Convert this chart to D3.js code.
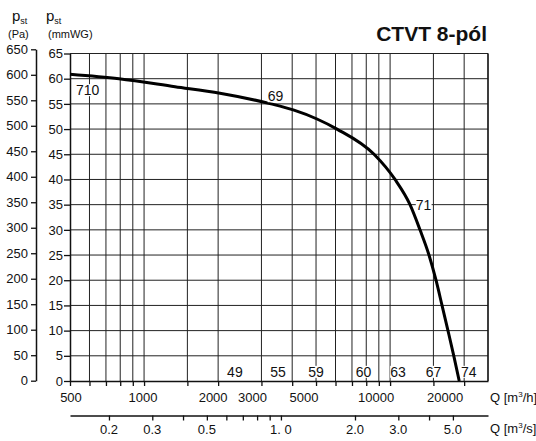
<!DOCTYPE html>
<html><head><meta charset="utf-8">
<script src="https://cdn.jsdelivr.net/npm/d3@7"></script>
<style>
html,body{margin:0;padding:0;background:#fff;}
svg{display:block;font-family:"Liberation Sans",Arial,sans-serif;}
</style></head>
<body>
<svg id="c" width="536" height="441"></svg>
<script>
// ---- data ----
const flowM3h = [500, 791, 1336, 2035, 3281, 4040, 5045, 6083, 8605, 10470, 12050, 13230, 14390, 15370, 16260, 17190, 18150, 19100];
const pressureMmWG = [60.9, 60.0, 58.4, 57.1, 55.0, 53.8, 52.0, 50.0, 45.0, 40.0, 35.0, 30.0, 25.0, 20.0, 15.0, 10.0, 5.0, 0];
const gridQ = [600, 700, 800, 900, 1000, 1500, 2000, 3000, 4000, 5000, 6000, 7000, 8000, 9000, 10000, 15000, 20000, 25000];
const qLabels = [500, 1000, 2000, 3000, 5000, 10000, 20000];
const mmTicks = d3.range(0, 66, 5);
const paTicks = d3.range(0, 651, 50);
const qsTicks = [0.2, 0.3, 0.4, 0.5, 0.6, 0.7, 0.8, 0.9, 1, 2, 3, 4, 5];
const qsLabelVals = [0.2, 0.3, 0.5, 1, 2, 3, 5];
const qsLabelText = ["0.2", "0.3", "0.5", "1. 0", "2.0", "3.0", "5.0"];
const curveNotes = ["710", "69", "71"];
const curveNoteQ = [590, 3420, 13680];
const curveNoteP = [57.7, 56.5, 35];
const baseNotes = ["49", "55", "59", "60", "63", "67", "74"];
const baseNoteQ = [2340, 3500, 5000, 7800, 10760, 15000, 20900];
const title = "CTVT 8-pól";

// ---- layout ----
const L = 70, R = 488, T = 53.5, B = 381;
const svg = d3.select("#c");
const x = d3.scaleLog().domain([500, 25000]).range([L, R]);
const xs = d3.scaleLog().domain([500 / 3600, 25000 / 3600]).range([L, R]);
const y = d3.scaleLinear().domain([0, 65]).range([B, T]);
const yPa = d3.scaleLinear().domain([0, 650]).range([380.7, 49.3]);
const ink = "#111";
const labelShift = {500: 1, 1000: -1, 2000: -5, 3000: -9, 5000: -12, 10000: -14, 20000: -19};

// grid
const g = svg.append("g");
g.selectAll("line.v").data(gridQ).join("line")
  .attr("x1", d => x(d)).attr("x2", d => x(d)).attr("y1", B).attr("y2", T)
  .attr("stroke", "#222").attr("stroke-width", 1);
g.selectAll("line.h").data(mmTicks.filter(d => d > 0)).join("line")
  .attr("x1", L).attr("x2", R).attr("y1", d => y(d)).attr("y2", d => y(d))
  .attr("stroke", "#222").attr("stroke-width", 1);

// mmWG axis
const ay = svg.append("g").attr("transform", `translate(${L},0)`)
  .call(d3.axisLeft(y).tickValues(mmTicks).tickSize(6).tickSizeOuter(0).tickFormat(d3.format("d")));
// Pa axis
const ap = svg.append("g").attr("transform", `translate(36,0)`)
  .call(d3.axisLeft(yPa).tickValues(paTicks).tickSize(5).tickSizeOuter(0).tickFormat(d3.format("d")));
// Q m3/h axis
const ax = svg.append("g").attr("transform", `translate(0,${B})`)
  .call(d3.axisBottom(x).tickValues([500].concat(gridQ.slice(0, -1))).tickSize(5).tickSizeOuter(0).tickFormat(""));
ax.selectAll(".lbl").data(qLabels).join("text")
  .attr("x", d => x(d) + labelShift[d]).attr("y", 21).attr("text-anchor", "middle")
  .attr("font-size", 13).attr("fill", ink).text(d => d);
// Q m3/s axis
const as = svg.append("g").attr("transform", `translate(0,415.5)`)
  .call(d3.axisBottom(xs).tickValues(qsTicks).tickSize(5).tickSizeOuter(0).tickFormat(""));
as.selectAll(".lbl").data(qsLabelVals).join("text")
  .attr("x", d => xs(d)).attr("y", 18).attr("text-anchor", "middle")
  .attr("font-size", 13).attr("fill", ink).text((d, i) => qsLabelText[i]);

[ay, ap, ax, as].forEach(a => {
  a.select(".domain").attr("stroke", ink).attr("stroke-width", 1.5);
  a.selectAll(".tick line").attr("stroke", ink).attr("stroke-width", 1.3);
  a.selectAll(".tick text").attr("font-size", 13).attr("fill", ink).attr("font-family", null);
});
ay.selectAll(".tick text").attr("x", -7);
ap.selectAll(".tick text").attr("x", -8);

// frame right
svg.append("line").attr("x1", R).attr("x2", R).attr("y1", T).attr("y2", B).attr("stroke", ink).attr("stroke-width", 1.3);

// axis titles
svg.append("text").attr("x", 490).attr("y", 402).attr("font-size", 13).attr("fill", ink)
  .html('Q [m<tspan dy="-5" font-size="8">3</tspan><tspan dy="5">/h]</tspan>');
svg.append("text").attr("x", 490).attr("y", 433).attr("font-size", 13).attr("fill", ink)
  .html('Q [m<tspan dy="-5" font-size="8">3</tspan><tspan dy="5">/s]</tspan>');
function pst(xp) {
  svg.append("text").attr("x", xp).attr("y", 21).attr("font-size", 15).attr("fill", ink)
    .html('p<tspan dy="3" font-size="9">st</tspan>');
}
pst(12); pst(46);
svg.append("text").attr("x", 8).attr("y", 37.5).attr("font-size", 11).attr("fill", ink).text("(Pa)");
svg.append("text").attr("x", 48).attr("y", 37.5).attr("font-size", 11).attr("fill", ink).text("(mmWG)");
svg.append("text").attr("x", 487).attr("y", 41).attr("text-anchor", "end")
  .attr("font-size", 21).attr("font-weight", "bold").attr("fill", ink).text(title);

// curve
const pts = flowM3h.map((q, i) => [x(q), y(pressureMmWG[i])]);
svg.append("path").datum(pts)
  .attr("d", d3.line().curve(d3.curveMonotoneX))
  .attr("fill", "none").attr("stroke", "#000").attr("stroke-width", 3);

// notes with white background
function note(txt, q, p) {
  const t = svg.append("text").attr("x", x(q)).attr("y", y(p)).attr("dy", "0.35em")
    .attr("text-anchor", "middle").attr("font-size", 14).attr("fill", ink).text(txt);
  const b = t.node().getBBox();
  svg.insert("rect", () => t.node()).attr("x", b.x).attr("y", b.y + 2).attr("width", b.width).attr("height", b.height - 4)
    .attr("fill", "#fff");
}
curveNotes.forEach((t, i) => note(t, curveNoteQ[i], curveNoteP[i]));
baseNotes.forEach((t, i) => note(t, baseNoteQ[i], 1.8));
</script>
</body></html>
